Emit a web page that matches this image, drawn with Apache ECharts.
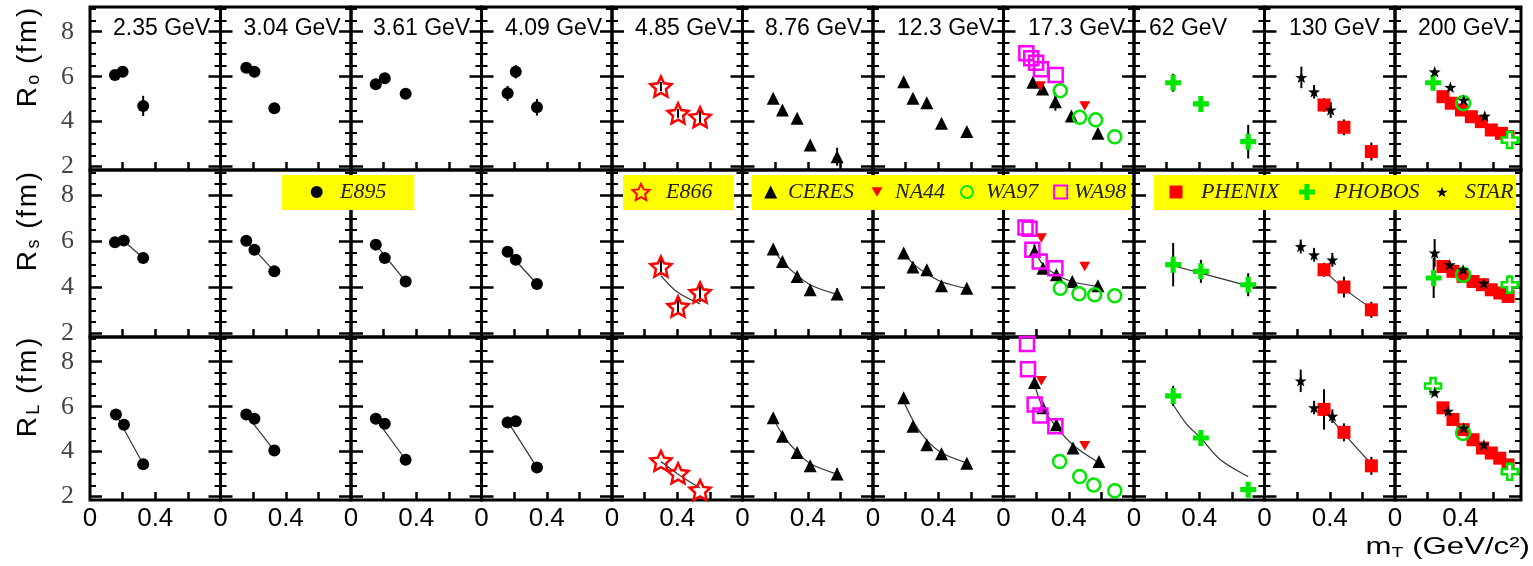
<!DOCTYPE html>
<html><head><meta charset="utf-8">
<script src="https://cdn.jsdelivr.net/npm/echarts@6/dist/echarts.min.js"></script>
<style>html,body{margin:0;padding:0;background:#fff}#c{width:1533px;height:566px}</style>
</head><body><div id="c"></div>
<script>
// ---------- labels ----------
const energies = ['2.35 GeV','3.04 GeV','3.61 GeV','4.09 GeV','4.85 GeV','8.76 GeV','12.3 GeV','17.3 GeV','62 GeV','130 GeV','200 GeV'];
const rowSubs = ['o','s','L'];
const xTickValues = [0, 0.4];
const xTickLabels = ['0', '0.4'];
const yTickValues = [2, 4, 6, 8];
const yTickLabels = ['2', '4', '6', '8'];
const yMinorValues = [2.5, 3, 3.5, 4.5, 5, 5.5, 6.5, 7, 7.5, 8.5, 9];
const xMajorTicks = [0.2, 0.4, 0.6];

// ---------- data: {panelIndex: [[mT, R, err?], ...]} ----------
const E895_Ro = {0:[[0.153,6.08],[0.200,6.22],[0.326,4.70,0.45]],1:[[0.158,6.40],[0.208,6.22],[0.330,4.60]],2:[[0.152,5.66],[0.207,5.93],[0.335,5.24]],3:[[0.160,5.26,0.33],[0.210,6.22,0.30],[0.340,4.64,0.37]]};
const E895_Rs = {0:[[0.153,5.96],[0.207,6.04],[0.326,5.28]],1:[[0.158,6.03],[0.208,5.64],[0.330,4.70]],2:[[0.152,5.86],[0.207,5.28],[0.335,4.26]],3:[[0.160,5.55],[0.210,5.20],[0.340,4.15]]};
const E895_RL = {0:[[0.159,5.65],[0.208,5.20],[0.326,3.44]],1:[[0.158,5.65],[0.208,5.46],[0.330,4.05]],2:[[0.152,5.46],[0.207,5.24],[0.335,3.64]],3:[[0.160,5.30,0.25],[0.210,5.35],[0.340,3.30]]};
const E866_Ro = {4:[[0.30,5.56,0.2],[0.405,4.37,0.2],[0.54,4.20,0.3]]};
const E866_Rs = {4:[[0.30,4.91,0.35],[0.405,3.17,0.3],[0.54,3.78,0.4]]};
const E866_RL = {4:[[0.30,3.59],[0.405,3.04],[0.54,2.29]]};
const CERES_Ro = {5:[[0.188,5.04],[0.245,4.52],[0.335,4.15],[0.415,2.96],[0.58,2.44,0.4]],6:[[0.188,5.78],[0.245,5.04],[0.33,4.84],[0.42,3.93],[0.575,3.56]],7:[[0.18,5.75],[0.24,5.45],[0.318,4.89,0.4],[0.416,4.25],[0.579,3.48]]};
const CERES_Rs = {5:[[0.188,5.67],[0.245,5.13],[0.335,4.48],[0.415,3.90],[0.58,3.72,0.25]],6:[[0.188,5.50],[0.245,4.89],[0.33,4.77],[0.42,4.07],[0.575,3.97]],7:[[0.19,5.57,0.3],[0.242,4.84],[0.324,4.55],[0.422,4.26],[0.579,4.07]]};
const CERES_RL = {5:[[0.188,5.51],[0.245,4.68],[0.335,3.96],[0.415,3.37],[0.58,3.01,0.25]],6:[[0.188,6.40],[0.245,5.13],[0.33,4.31],[0.42,3.91],[0.575,3.49]],7:[[0.19,7.08,0.3],[0.242,5.95],[0.324,5.20],[0.426,4.16],[0.585,3.56]]};
const NA44_Ro = {7:[[0.226,5.59],[0.498,4.70]]};
const NA44_Rs = {7:[[0.232,6.15],[0.498,4.91]]};
const NA44_RL = {7:[[0.232,7.15],[0.498,4.26]]};
const WA97_Ro = {7:[[0.348,5.38],[0.467,4.20],[0.565,4.08],[0.682,3.33]]};
const WA97_Rs = {7:[[0.348,3.97],[0.463,3.73],[0.559,3.68],[0.682,3.64]]};
const WA97_RL = {7:[[0.344,3.56],[0.467,2.89],[0.553,2.52],[0.682,2.26]]};
const WA98_Ro = {7:[[0.14,7.04],[0.17,6.82],[0.20,6.62],[0.23,6.33],[0.32,6.08]]};
const WA98_Rs = {7:[[0.135,6.60],[0.16,6.55],[0.177,5.64],[0.222,5.13],[0.318,4.84]]};
const WA98_RL = {7:[[0.144,8.79],[0.15,7.67],[0.191,6.10],[0.226,5.61],[0.318,5.13]]};
const PHOBOS_Ro = {8:[[0.24,5.73,0.4],[0.41,4.79,0.35],[0.70,3.11,0.75]],10:[[0.233,5.73,0.3]]};
const PHOBOS_Rs = {8:[[0.24,4.99,0.94],[0.41,4.70,0.5],[0.70,4.12,0.5]],10:[[0.237,4.41,0.87]]};
const PHOBOS_RL = {8:[[0.24,6.48,0.45],[0.41,4.61,0.2],[0.70,2.31,0.3]]};
const PHOBOS_OPEN_Ro = {10:[[0.703,3.18,0.3]]};
const PHOBOS_OPEN_Rs = {10:[[0.703,4.12,0.4]]};
const PHOBOS_OPEN_RL = {10:[[0.233,6.92,0.3],[0.703,3.11]]};
const PHOBOS_RING_Ro = {10:[[0.417,4.82]]};
const PHOBOS_RING_Rs = {10:[[0.417,4.55]]};
const PHOBOS_RING_RL = {10:[[0.417,4.83]]};
const PHENIX_Ro = {9:[[0.365,4.74,0.3],[0.487,3.75,0.35],[0.655,2.67,0.4]],10:[[0.294,5.11],[0.345,4.82],[0.407,4.52],[0.468,4.22],[0.529,4.00],[0.59,3.63],[0.652,3.48],[0.693,3.33]]};
const PHENIX_Rs = {9:[[0.365,4.77,0.3],[0.487,4.02,0.45],[0.655,3.03,0.35]],10:[[0.294,4.91],[0.355,4.70],[0.417,4.48],[0.478,4.26],[0.536,4.12],[0.59,3.90],[0.642,3.76],[0.693,3.61]]};
const PHENIX_RL = {9:[[0.365,5.88,0.9],[0.487,4.86,0.4],[0.655,3.37,0.4]],10:[[0.294,5.95],[0.355,5.43],[0.417,4.98],[0.478,4.53],[0.536,4.16],[0.59,3.94],[0.642,3.71],[0.693,3.41]]};
const STAR_Ro = {9:[[0.226,5.97,0.48],[0.304,5.33,0.3],[0.406,4.52,0.35]],10:[[0.243,6.22],[0.339,5.53],[0.421,4.96],[0.55,4.25]]};
const STAR_Rs = {9:[[0.222,5.78,0.3],[0.304,5.42,0.3],[0.416,5.20,0.3]],10:[[0.243,5.50,0.6],[0.335,4.99],[0.417,4.77],[0.544,4.19]]};
const STAR_RL = {9:[[0.222,7.15,0.5],[0.304,5.96,0.3],[0.416,5.58,0.3]],10:[[0.243,6.63],[0.325,5.80],[0.421,5.06],[0.544,4.31]]};
const FIT_Rs = {0:[[0.207,6.02],[0.326,5.28]],1:[[0.158,6.03],[0.33,4.70]],2:[[0.152,5.86],[0.335,4.26]],3:[[0.16,5.55],[0.34,4.15]],4:[[0.30,4.51],[0.40,3.80],[0.54,3.29]],5:[[0.19,5.62],[0.26,5.00],[0.34,4.50],[0.42,4.10],[0.58,3.70]],6:[[0.19,5.45],[0.26,4.95],[0.33,4.60],[0.42,4.25],[0.575,3.95]],7:[[0.19,5.60],[0.242,5.00],[0.324,4.55],[0.422,4.25],[0.58,4.05]],8:[[0.24,4.95],[0.41,4.62],[0.70,4.07]],9:[[0.365,4.75],[0.487,3.95],[0.655,3.10]],10:[[0.29,4.95],[0.42,4.45],[0.55,4.00],[0.72,3.55]]};
const FIT_RL = {0:[[0.159,5.65],[0.326,3.44]],1:[[0.158,5.65],[0.33,4.05]],2:[[0.152,5.46],[0.335,3.64]],3:[[0.16,5.35],[0.34,3.30]],4:[[0.30,3.56],[0.405,3.00],[0.54,2.38]],5:[[0.19,5.45],[0.26,4.60],[0.34,3.95],[0.42,3.45],[0.58,3.00]],6:[[0.19,6.20],[0.26,5.20],[0.33,4.50],[0.42,3.95],[0.575,3.50]],7:[[0.19,7.00],[0.242,5.95],[0.324,5.10],[0.426,4.30],[0.585,3.50]],8:[[0.24,6.10],[0.32,5.25],[0.41,4.60],[0.53,3.64],[0.70,2.89]],9:[[0.365,5.85],[0.487,4.80],[0.655,3.45]],10:[[0.29,6.00],[0.42,4.95],[0.55,4.15],[0.72,3.30]]};

// ---------- styles ----------
const STAR_PATH = 'path://M50 0L61.76 33.82L97.55 34.55L69.02 56.18L79.39 90.45L50 70L20.61 90.45L30.98 56.18L2.45 34.55L38.24 33.82Z';
const OPENSTAR_PATH = 'path://M50 0L64.1 30.6L97.55 34.55L72.8 57.4L79.39 90.45L50 74L20.61 90.45L27.2 57.4L2.45 34.55L35.9 30.6Z';
const CROSS_PATH = 'path://M34 0H66V34H100V66H66V100H34V66H0V34H34Z';
const DOWN_TRI = 'path://M0 0L100 0L50 87Z';
const GREEN = '#00e600', RED = '#ff0000', MAG = '#ff00ff', NONE = 'rgba(0,0,0,0)';
const styles = [
  {name:'E895', rows:[E895_Ro,E895_Rs,E895_RL], symbol:'circle', size:12, fill:'#000'},
  {name:'E866', rows:[E866_Ro,E866_Rs,E866_RL], symbol:OPENSTAR_PATH, size:21, fill:NONE, stroke:RED, lw:2.5},
  {name:'CERES', rows:[CERES_Ro,CERES_Rs,CERES_RL], symbol:'triangle', size:13, fill:'#000'},
  {name:'NA44', rows:[NA44_Ro,NA44_Rs,NA44_RL], symbol:DOWN_TRI, size:11, fill:RED},
  {name:'WA97', rows:[WA97_Ro,WA97_Rs,WA97_RL], symbol:'circle', size:13, fill:NONE, stroke:GREEN, lw:2.5},
  {name:'WA98', rows:[WA98_Ro,WA98_Rs,WA98_RL], symbol:'rect', size:14, fill:NONE, stroke:MAG, lw:2.5},
  {name:'PHENIX', rows:[PHENIX_Ro,PHENIX_Rs,PHENIX_RL], symbol:'rect', size:13, fill:RED},
  {name:'PHOBOS', rows:[PHOBOS_Ro,PHOBOS_Rs,PHOBOS_RL], symbol:CROSS_PATH, size:16, fill:GREEN},
  {name:'PHOBOS', rows:[PHOBOS_OPEN_Ro,PHOBOS_OPEN_Rs,PHOBOS_OPEN_RL], symbol:CROSS_PATH, size:16, fill:'#fff', stroke:GREEN, lw:2.5},
  {name:'PHOBOS', rows:[PHOBOS_RING_Ro,PHOBOS_RING_Rs,PHOBOS_RING_RL], symbol:'circle', size:14, fill:NONE, stroke:GREEN, lw:2.5},
  {name:'STAR', rows:[STAR_Ro,STAR_Rs,STAR_RL], symbol:STAR_PATH, size:12, fill:'#000'}
];
const fits = [null, FIT_Rs, FIT_RL];

// ---------- layout ----------
const NCOL = energies.length;
const colLeft = i => 90 + 130.5 * i;
const colWidth = i => (i === NCOL - 1 ? 126 : 130.5);
const colXMax = i => (i === NCOL - 1 ? 0.772 : 0.8);
const rowTop = [7, 170, 337];
const rowHeight = [163, 167, 163];
const Y_MIN = 1.85, Y_MAX = 9.1;
const titleDx = [23, 23, 22, 23.5, 23, 22.5, 24, 24.5, 15, 24.5, 23];
const legendBoxes = [[281.7,175,132.6,35],[623,175,111,35],[751.7,175,379.6,35],[1154,175,362,35]];
const legendLayout = [['E895',316.7,340,12],['E866',640,665,17],['CERES',770.7,788,13],['NA44',877,895,11],['WA97',966,985,12],['WA98',1059.7,1073,13],['PHENIX',1176,1201,13],['PHOBOS',1307,1334,16],['STAR',1442,1465,11]];
const yTitleCenter = [58, 222, 388];
const yTitleLength = 102;

const grids = [], xAxes = [], yAxes = [], series = [];
const gridOf = (r, i) => 2 * (r * NCOL + i);
const majorTick = {show:true, inside:true, length:12, lineStyle:{color:'#000', width:2.5}, customValues:yTickValues};
const minorTick = {show:true, inside:true, length:6, lineStyle:{color:'#000', width:2}, customValues:yMinorValues};
for (let r = 0; r < 3; r++) for (let i = 0; i < NCOL; i++) {
  const rect = {left: colLeft(i), top: rowTop[r], width: colWidth(i), height: rowHeight[r], outerBoundsMode: 'none', containLabel: false};
  const gA = grids.length;
  grids.push(Object.assign({show:true, borderColor:'#000', borderWidth:3, backgroundColor:NONE}, rect));
  grids.push(Object.assign({show:false}, rect));
  const gB = gA + 1;
  xAxes.push({gridIndex:gA, type:'value', min:0, max:colXMax(i), position:'bottom',
    axisLine:{show:false}, splitLine:{show:false},
    axisTick:{show:true, inside:true, length:8, lineStyle:{color:'#000', width:2.5}, customValues:xMajorTicks},
    axisLabel:{show:r === 2, customValues:xTickValues, showMinLabel:true, showMaxLabel:true,
      formatter: v => { const k = xTickValues.indexOf(v); return k >= 0 ? xTickLabels[k] : ''; },
      fontFamily:'Liberation Sans', fontSize:26, color:'#000', margin:6}});
  xAxes.push({gridIndex:gB, type:'value', min:0, max:colXMax(i), show:false});
  const base = {type:'value', min:Y_MIN, max:Y_MAX, axisLine:{show:false}, splitLine:{show:false}};
  yAxes.push(Object.assign({}, base, {gridIndex:gA, position:'left', axisTick:majorTick,
    axisLabel:{show:i === 0, customValues:yTickValues, showMinLabel:true, showMaxLabel:true,
      formatter: v => { const k = yTickValues.indexOf(v); return k >= 0 ? yTickLabels[k] : ''; },
      fontFamily:'Liberation Serif', fontSize:26, color:'#444', margin:16}}));
  yAxes.push(Object.assign({}, base, {gridIndex:gA, position:'right', axisTick:majorTick, axisLabel:{show:false}}));
  yAxes.push(Object.assign({}, base, {gridIndex:gB, position:'left', axisTick:minorTick, axisLabel:{show:false}}));
  yAxes.push(Object.assign({}, base, {gridIndex:gB, position:'right', axisTick:minorTick, axisLabel:{show:false}}));
}

// fits
for (let r = 1; r < 3; r++) {
  for (const key of Object.keys(fits[r])) {
    const g = gridOf(r, +key);
    series.push({type:'line', xAxisIndex:g, yAxisIndex:2 * g, data:fits[r][key], smooth:0.35, symbol:'none',
      lineStyle:{color:'#333', width:1.2}, z:2, silent:true, animation:false});
  }
}
// error bars
const errs = {};
styles.forEach(st => st.rows.forEach((rowArr, r) => {
  for (const key of Object.keys(rowArr)) {
    const g = gridOf(r, +key);
    rowArr[key].forEach(p => { if (p.length > 2) (errs[g] = errs[g] || []).push(p); });
  }
}));
for (const gk of Object.keys(errs)) {
  const g = +gk;
  series.push({type:'custom', xAxisIndex:g, yAxisIndex:2 * g, data:errs[gk], encode:{x:0, y:1}, z:3, silent:true,
    renderItem: (params, api) => {
      const x = api.value(0), y = api.value(1), e = api.value(2);
      const a = api.coord([x, y - e]), b = api.coord([x, y + e]);
      return {type:'line', shape:{x1:a[0], y1:a[1], x2:b[0], y2:b[1]}, style:{stroke:'#000', lineWidth:2}};
    }});
}
// markers
styles.forEach(st => st.rows.forEach((rowArr, r) => {
  for (const key of Object.keys(rowArr)) {
    const g = gridOf(r, +key);
    series.push({type:'scatter', name:st.name, xAxisIndex:g, yAxisIndex:2 * g,
      data:rowArr[key].map(p => [p[0], p[1]]), symbol:st.symbol, symbolSize:st.size, symbolKeepAspect:true,
      itemStyle:{color:st.fill, borderColor:st.stroke || st.fill, borderWidth:st.lw || 0, opacity:1},
      z:4, silent:true, emphasis:{disabled:true}});
  }
}));

// titles
const titles = energies.map((t, i) => ({text:t, left:colLeft(i) + titleDx[i], top:17, padding:0,
  textStyle:{fontFamily:'Liberation Sans', fontSize:23, fontWeight:'normal', color:'#000'}}));

// legends
const legends = legendLayout.map(([name, cx, tx, h]) => ({
  data:[name], left:cx - h / 2, top:181, orient:'horizontal', padding:0, itemWidth:h, itemHeight:h,
  selectedMode:false, z:6,
  textStyle:{fontFamily:'Liberation Serif', fontStyle:'italic', fontSize:22, lineHeight:22, color:'#222',
    padding:[0, 0, 0, Math.max(0, tx - (cx + h / 2) - 5)]}
}));

// graphics
const ctx = document.createElement('canvas').getContext('2d');
const measure = (t, f) => { ctx.font = f; return ctx.measureText(t).width; };
const BIG = 'normal 28px "Liberation Sans"', SMALL = 'normal 18px "Liberation Sans"';
const graphics = legendBoxes.map(([x, y, w, h]) => ({type:'rect', shape:{x, y, width:w, height:h}, style:{fill:'#ffff00'}, z:5, silent:true}));
rowSubs.forEach((s, r) => {
  // glyph-by-glyph rotated label, spread along the required length
  const parts = [['R', BIG, 0], [s, SMALL, 6], [' ', BIG, 0], ['(', BIG, 0], ['f', BIG, 0], ['m', BIG, 0], [')', BIG, 0]];
  const widths = parts.map(p => measure(p[0], p[1]));
  const total = widths.reduce((a, b) => a + b, 0);
  const k = yTitleLength / total;
  let cur = 0;
  parts.forEach((p, j) => {
    const mid = (cur + widths[j] / 2) * k;
    cur += widths[j];
    if (p[0] === ' ') return;
    graphics.push({type:'text', x:28 + p[2], y:yTitleCenter[r] + yTitleLength / 2 - mid, rotation:Math.PI / 2, z:6,
      style:{text:p[0], font:p[1], fill:'#000', align:'center', verticalAlign:'middle'}});
  });
});
graphics.push({type:'group', x:1530, y:547, z:6,
  children:[{type:'text', x:0, y:0, scaleX:1.3, scaleY:1,
    style:{text:'{a|m}{b|T}{a| (GeV/c²)}', align:'right', verticalAlign:'middle', fill:'#000',
      rich:{a:{fontFamily:'Liberation Sans', fontSize:24, fill:'#000'}, b:{fontFamily:'Liberation Sans', fontSize:15, fill:'#000', padding:[12, 0, 0, 0]}}}}]});

const chart = echarts.init(document.getElementById('c'), null, {renderer:'canvas'});
chart.setOption({
  animation:false,
  backgroundColor:'#fff',
  title:titles,
  legend:legends,
  grid:grids,
  xAxis:xAxes,
  yAxis:yAxes,
  series:series,
  graphic:{elements:graphics}
});
</script>
</body></html>
